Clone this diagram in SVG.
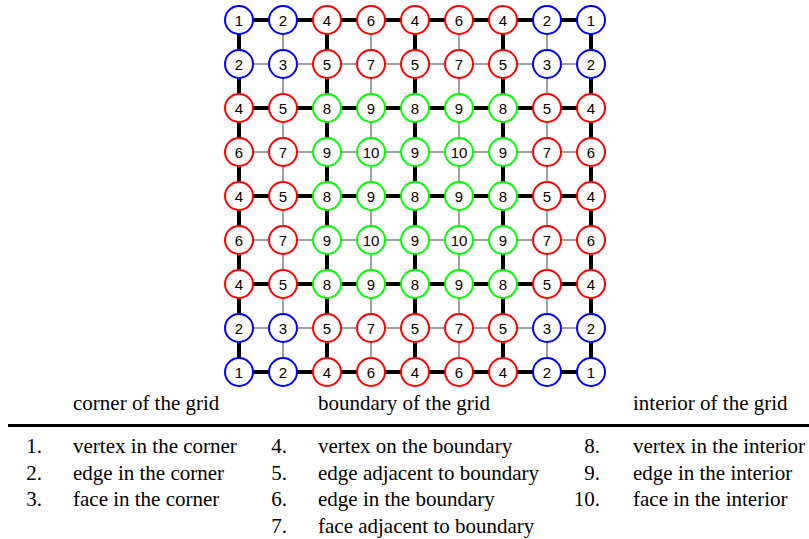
<svg xmlns="http://www.w3.org/2000/svg" width="809" height="539" viewBox="0 0 809 539">
<style>
.k{stroke:#000;stroke-width:4}
.h{stroke:#808080;stroke-width:1.5}
circle{fill:#fff;stroke-width:2}
.b circle{stroke:#0000ff}
.r circle{stroke:#ff0000}
.g circle{stroke:#00ff00}
.n text{font-family:"Liberation Sans",Arial,sans-serif;font-size:15px;text-anchor:middle;fill:#000}
.lab{font-family:"Liberation Serif","Times New Roman",serif;font-size:21px;fill:#000}
.num{text-anchor:end}
</style>
<rect width="809" height="539" fill="#fff"/>
<g id="connectors">
<g class="k">
<line x1="239" y1="20" x2="283" y2="20"/><line x1="283" y1="20" x2="327" y2="20"/><line x1="327" y1="20" x2="371" y2="20"/><line x1="371" y1="20" x2="415" y2="20"/><line x1="415" y1="20" x2="459" y2="20"/><line x1="459" y1="20" x2="503" y2="20"/><line x1="503" y1="20" x2="547" y2="20"/><line x1="547" y1="20" x2="591" y2="20"/>
<line x1="239" y1="108" x2="283" y2="108"/><line x1="283" y1="108" x2="327" y2="108"/><line x1="327" y1="108" x2="371" y2="108"/><line x1="371" y1="108" x2="415" y2="108"/><line x1="415" y1="108" x2="459" y2="108"/><line x1="459" y1="108" x2="503" y2="108"/><line x1="503" y1="108" x2="547" y2="108"/><line x1="547" y1="108" x2="591" y2="108"/>
<line x1="239" y1="196" x2="283" y2="196"/><line x1="283" y1="196" x2="327" y2="196"/><line x1="327" y1="196" x2="371" y2="196"/><line x1="371" y1="196" x2="415" y2="196"/><line x1="415" y1="196" x2="459" y2="196"/><line x1="459" y1="196" x2="503" y2="196"/><line x1="503" y1="196" x2="547" y2="196"/><line x1="547" y1="196" x2="591" y2="196"/>
<line x1="239" y1="284" x2="283" y2="284"/><line x1="283" y1="284" x2="327" y2="284"/><line x1="327" y1="284" x2="371" y2="284"/><line x1="371" y1="284" x2="415" y2="284"/><line x1="415" y1="284" x2="459" y2="284"/><line x1="459" y1="284" x2="503" y2="284"/><line x1="503" y1="284" x2="547" y2="284"/><line x1="547" y1="284" x2="591" y2="284"/>
<line x1="239" y1="372" x2="283" y2="372"/><line x1="283" y1="372" x2="327" y2="372"/><line x1="327" y1="372" x2="371" y2="372"/><line x1="371" y1="372" x2="415" y2="372"/><line x1="415" y1="372" x2="459" y2="372"/><line x1="459" y1="372" x2="503" y2="372"/><line x1="503" y1="372" x2="547" y2="372"/><line x1="547" y1="372" x2="591" y2="372"/>
<line x1="239" y1="20" x2="239" y2="64"/><line x1="239" y1="64" x2="239" y2="108"/><line x1="239" y1="108" x2="239" y2="152"/><line x1="239" y1="152" x2="239" y2="196"/><line x1="239" y1="196" x2="239" y2="240"/><line x1="239" y1="240" x2="239" y2="284"/><line x1="239" y1="284" x2="239" y2="328"/><line x1="239" y1="328" x2="239" y2="372"/>
<line x1="327" y1="20" x2="327" y2="64"/><line x1="327" y1="64" x2="327" y2="108"/><line x1="327" y1="108" x2="327" y2="152"/><line x1="327" y1="152" x2="327" y2="196"/><line x1="327" y1="196" x2="327" y2="240"/><line x1="327" y1="240" x2="327" y2="284"/><line x1="327" y1="284" x2="327" y2="328"/><line x1="327" y1="328" x2="327" y2="372"/>
<line x1="415" y1="20" x2="415" y2="64"/><line x1="415" y1="64" x2="415" y2="108"/><line x1="415" y1="108" x2="415" y2="152"/><line x1="415" y1="152" x2="415" y2="196"/><line x1="415" y1="196" x2="415" y2="240"/><line x1="415" y1="240" x2="415" y2="284"/><line x1="415" y1="284" x2="415" y2="328"/><line x1="415" y1="328" x2="415" y2="372"/>
<line x1="503" y1="20" x2="503" y2="64"/><line x1="503" y1="64" x2="503" y2="108"/><line x1="503" y1="108" x2="503" y2="152"/><line x1="503" y1="152" x2="503" y2="196"/><line x1="503" y1="196" x2="503" y2="240"/><line x1="503" y1="240" x2="503" y2="284"/><line x1="503" y1="284" x2="503" y2="328"/><line x1="503" y1="328" x2="503" y2="372"/>
<line x1="591" y1="20" x2="591" y2="64"/><line x1="591" y1="64" x2="591" y2="108"/><line x1="591" y1="108" x2="591" y2="152"/><line x1="591" y1="152" x2="591" y2="196"/><line x1="591" y1="196" x2="591" y2="240"/><line x1="591" y1="240" x2="591" y2="284"/><line x1="591" y1="284" x2="591" y2="328"/><line x1="591" y1="328" x2="591" y2="372"/>
</g>
<g class="h">
<line x1="239" y1="64" x2="283" y2="64"/><line x1="283" y1="64" x2="327" y2="64"/><line x1="327" y1="64" x2="371" y2="64"/><line x1="371" y1="64" x2="415" y2="64"/><line x1="415" y1="64" x2="459" y2="64"/><line x1="459" y1="64" x2="503" y2="64"/><line x1="503" y1="64" x2="547" y2="64"/><line x1="547" y1="64" x2="591" y2="64"/>
<line x1="239" y1="152" x2="283" y2="152"/><line x1="283" y1="152" x2="327" y2="152"/><line x1="327" y1="152" x2="371" y2="152"/><line x1="371" y1="152" x2="415" y2="152"/><line x1="415" y1="152" x2="459" y2="152"/><line x1="459" y1="152" x2="503" y2="152"/><line x1="503" y1="152" x2="547" y2="152"/><line x1="547" y1="152" x2="591" y2="152"/>
<line x1="239" y1="240" x2="283" y2="240"/><line x1="283" y1="240" x2="327" y2="240"/><line x1="327" y1="240" x2="371" y2="240"/><line x1="371" y1="240" x2="415" y2="240"/><line x1="415" y1="240" x2="459" y2="240"/><line x1="459" y1="240" x2="503" y2="240"/><line x1="503" y1="240" x2="547" y2="240"/><line x1="547" y1="240" x2="591" y2="240"/>
<line x1="239" y1="328" x2="283" y2="328"/><line x1="283" y1="328" x2="327" y2="328"/><line x1="327" y1="328" x2="371" y2="328"/><line x1="371" y1="328" x2="415" y2="328"/><line x1="415" y1="328" x2="459" y2="328"/><line x1="459" y1="328" x2="503" y2="328"/><line x1="503" y1="328" x2="547" y2="328"/><line x1="547" y1="328" x2="591" y2="328"/>
<line x1="283" y1="20" x2="283" y2="64"/><line x1="283" y1="64" x2="283" y2="108"/><line x1="283" y1="108" x2="283" y2="152"/><line x1="283" y1="152" x2="283" y2="196"/><line x1="283" y1="196" x2="283" y2="240"/><line x1="283" y1="240" x2="283" y2="284"/><line x1="283" y1="284" x2="283" y2="328"/><line x1="283" y1="328" x2="283" y2="372"/>
<line x1="371" y1="20" x2="371" y2="64"/><line x1="371" y1="64" x2="371" y2="108"/><line x1="371" y1="108" x2="371" y2="152"/><line x1="371" y1="152" x2="371" y2="196"/><line x1="371" y1="196" x2="371" y2="240"/><line x1="371" y1="240" x2="371" y2="284"/><line x1="371" y1="284" x2="371" y2="328"/><line x1="371" y1="328" x2="371" y2="372"/>
<line x1="459" y1="20" x2="459" y2="64"/><line x1="459" y1="64" x2="459" y2="108"/><line x1="459" y1="108" x2="459" y2="152"/><line x1="459" y1="152" x2="459" y2="196"/><line x1="459" y1="196" x2="459" y2="240"/><line x1="459" y1="240" x2="459" y2="284"/><line x1="459" y1="284" x2="459" y2="328"/><line x1="459" y1="328" x2="459" y2="372"/>
<line x1="547" y1="20" x2="547" y2="64"/><line x1="547" y1="64" x2="547" y2="108"/><line x1="547" y1="108" x2="547" y2="152"/><line x1="547" y1="152" x2="547" y2="196"/><line x1="547" y1="196" x2="547" y2="240"/><line x1="547" y1="240" x2="547" y2="284"/><line x1="547" y1="284" x2="547" y2="328"/><line x1="547" y1="328" x2="547" y2="372"/>
</g>
</g>
<g id="nodes" class="n">
<g id="n0-0" class="b"><circle cx="239" cy="20" r="14"/><text x="239" y="25.5">1</text></g>
<g id="n0-1" class="b"><circle cx="283" cy="20" r="14"/><text x="283" y="25.5">2</text></g>
<g id="n0-2" class="r"><circle cx="327" cy="20" r="14"/><text x="327" y="25.5">4</text></g>
<g id="n0-3" class="r"><circle cx="371" cy="20" r="14"/><text x="371" y="25.5">6</text></g>
<g id="n0-4" class="r"><circle cx="415" cy="20" r="14"/><text x="415" y="25.5">4</text></g>
<g id="n0-5" class="r"><circle cx="459" cy="20" r="14"/><text x="459" y="25.5">6</text></g>
<g id="n0-6" class="r"><circle cx="503" cy="20" r="14"/><text x="503" y="25.5">4</text></g>
<g id="n0-7" class="b"><circle cx="547" cy="20" r="14"/><text x="547" y="25.5">2</text></g>
<g id="n0-8" class="b"><circle cx="591" cy="20" r="14"/><text x="591" y="25.5">1</text></g>

<g id="n1-0" class="b"><circle cx="239" cy="64" r="14"/><text x="239" y="69.5">2</text></g>
<g id="n1-1" class="b"><circle cx="283" cy="64" r="14"/><text x="283" y="69.5">3</text></g>
<g id="n1-2" class="r"><circle cx="327" cy="64" r="14"/><text x="327" y="69.5">5</text></g>
<g id="n1-3" class="r"><circle cx="371" cy="64" r="14"/><text x="371" y="69.5">7</text></g>
<g id="n1-4" class="r"><circle cx="415" cy="64" r="14"/><text x="415" y="69.5">5</text></g>
<g id="n1-5" class="r"><circle cx="459" cy="64" r="14"/><text x="459" y="69.5">7</text></g>
<g id="n1-6" class="r"><circle cx="503" cy="64" r="14"/><text x="503" y="69.5">5</text></g>
<g id="n1-7" class="b"><circle cx="547" cy="64" r="14"/><text x="547" y="69.5">3</text></g>
<g id="n1-8" class="b"><circle cx="591" cy="64" r="14"/><text x="591" y="69.5">2</text></g>

<g id="n2-0" class="r"><circle cx="239" cy="108" r="14"/><text x="239" y="113.5">4</text></g>
<g id="n2-1" class="r"><circle cx="283" cy="108" r="14"/><text x="283" y="113.5">5</text></g>
<g id="n2-2" class="g"><circle cx="327" cy="108" r="14"/><text x="327" y="113.5">8</text></g>
<g id="n2-3" class="g"><circle cx="371" cy="108" r="14"/><text x="371" y="113.5">9</text></g>
<g id="n2-4" class="g"><circle cx="415" cy="108" r="14"/><text x="415" y="113.5">8</text></g>
<g id="n2-5" class="g"><circle cx="459" cy="108" r="14"/><text x="459" y="113.5">9</text></g>
<g id="n2-6" class="g"><circle cx="503" cy="108" r="14"/><text x="503" y="113.5">8</text></g>
<g id="n2-7" class="r"><circle cx="547" cy="108" r="14"/><text x="547" y="113.5">5</text></g>
<g id="n2-8" class="r"><circle cx="591" cy="108" r="14"/><text x="591" y="113.5">4</text></g>

<g id="n3-0" class="r"><circle cx="239" cy="152" r="14"/><text x="239" y="157.5">6</text></g>
<g id="n3-1" class="r"><circle cx="283" cy="152" r="14"/><text x="283" y="157.5">7</text></g>
<g id="n3-2" class="g"><circle cx="327" cy="152" r="14"/><text x="327" y="157.5">9</text></g>
<g id="n3-3" class="g"><circle cx="371" cy="152" r="14"/><text x="371" y="157.5">10</text></g>
<g id="n3-4" class="g"><circle cx="415" cy="152" r="14"/><text x="415" y="157.5">9</text></g>
<g id="n3-5" class="g"><circle cx="459" cy="152" r="14"/><text x="459" y="157.5">10</text></g>
<g id="n3-6" class="g"><circle cx="503" cy="152" r="14"/><text x="503" y="157.5">9</text></g>
<g id="n3-7" class="r"><circle cx="547" cy="152" r="14"/><text x="547" y="157.5">7</text></g>
<g id="n3-8" class="r"><circle cx="591" cy="152" r="14"/><text x="591" y="157.5">6</text></g>

<g id="n4-0" class="r"><circle cx="239" cy="196" r="14"/><text x="239" y="201.5">4</text></g>
<g id="n4-1" class="r"><circle cx="283" cy="196" r="14"/><text x="283" y="201.5">5</text></g>
<g id="n4-2" class="g"><circle cx="327" cy="196" r="14"/><text x="327" y="201.5">8</text></g>
<g id="n4-3" class="g"><circle cx="371" cy="196" r="14"/><text x="371" y="201.5">9</text></g>
<g id="n4-4" class="g"><circle cx="415" cy="196" r="14"/><text x="415" y="201.5">8</text></g>
<g id="n4-5" class="g"><circle cx="459" cy="196" r="14"/><text x="459" y="201.5">9</text></g>
<g id="n4-6" class="g"><circle cx="503" cy="196" r="14"/><text x="503" y="201.5">8</text></g>
<g id="n4-7" class="r"><circle cx="547" cy="196" r="14"/><text x="547" y="201.5">5</text></g>
<g id="n4-8" class="r"><circle cx="591" cy="196" r="14"/><text x="591" y="201.5">4</text></g>

<g id="n5-0" class="r"><circle cx="239" cy="240" r="14"/><text x="239" y="245.5">6</text></g>
<g id="n5-1" class="r"><circle cx="283" cy="240" r="14"/><text x="283" y="245.5">7</text></g>
<g id="n5-2" class="g"><circle cx="327" cy="240" r="14"/><text x="327" y="245.5">9</text></g>
<g id="n5-3" class="g"><circle cx="371" cy="240" r="14"/><text x="371" y="245.5">10</text></g>
<g id="n5-4" class="g"><circle cx="415" cy="240" r="14"/><text x="415" y="245.5">9</text></g>
<g id="n5-5" class="g"><circle cx="459" cy="240" r="14"/><text x="459" y="245.5">10</text></g>
<g id="n5-6" class="g"><circle cx="503" cy="240" r="14"/><text x="503" y="245.5">9</text></g>
<g id="n5-7" class="r"><circle cx="547" cy="240" r="14"/><text x="547" y="245.5">7</text></g>
<g id="n5-8" class="r"><circle cx="591" cy="240" r="14"/><text x="591" y="245.5">6</text></g>

<g id="n6-0" class="r"><circle cx="239" cy="284" r="14"/><text x="239" y="289.5">4</text></g>
<g id="n6-1" class="r"><circle cx="283" cy="284" r="14"/><text x="283" y="289.5">5</text></g>
<g id="n6-2" class="g"><circle cx="327" cy="284" r="14"/><text x="327" y="289.5">8</text></g>
<g id="n6-3" class="g"><circle cx="371" cy="284" r="14"/><text x="371" y="289.5">9</text></g>
<g id="n6-4" class="g"><circle cx="415" cy="284" r="14"/><text x="415" y="289.5">8</text></g>
<g id="n6-5" class="g"><circle cx="459" cy="284" r="14"/><text x="459" y="289.5">9</text></g>
<g id="n6-6" class="g"><circle cx="503" cy="284" r="14"/><text x="503" y="289.5">8</text></g>
<g id="n6-7" class="r"><circle cx="547" cy="284" r="14"/><text x="547" y="289.5">5</text></g>
<g id="n6-8" class="r"><circle cx="591" cy="284" r="14"/><text x="591" y="289.5">4</text></g>

<g id="n7-0" class="b"><circle cx="239" cy="328" r="14"/><text x="239" y="333.5">2</text></g>
<g id="n7-1" class="b"><circle cx="283" cy="328" r="14"/><text x="283" y="333.5">3</text></g>
<g id="n7-2" class="r"><circle cx="327" cy="328" r="14"/><text x="327" y="333.5">5</text></g>
<g id="n7-3" class="r"><circle cx="371" cy="328" r="14"/><text x="371" y="333.5">7</text></g>
<g id="n7-4" class="r"><circle cx="415" cy="328" r="14"/><text x="415" y="333.5">5</text></g>
<g id="n7-5" class="r"><circle cx="459" cy="328" r="14"/><text x="459" y="333.5">7</text></g>
<g id="n7-6" class="r"><circle cx="503" cy="328" r="14"/><text x="503" y="333.5">5</text></g>
<g id="n7-7" class="b"><circle cx="547" cy="328" r="14"/><text x="547" y="333.5">3</text></g>
<g id="n7-8" class="b"><circle cx="591" cy="328" r="14"/><text x="591" y="333.5">2</text></g>

<g id="n8-0" class="b"><circle cx="239" cy="372" r="14"/><text x="239" y="377.5">1</text></g>
<g id="n8-1" class="b"><circle cx="283" cy="372" r="14"/><text x="283" y="377.5">2</text></g>
<g id="n8-2" class="r"><circle cx="327" cy="372" r="14"/><text x="327" y="377.5">4</text></g>
<g id="n8-3" class="r"><circle cx="371" cy="372" r="14"/><text x="371" y="377.5">6</text></g>
<g id="n8-4" class="r"><circle cx="415" cy="372" r="14"/><text x="415" y="377.5">4</text></g>
<g id="n8-5" class="r"><circle cx="459" cy="372" r="14"/><text x="459" y="377.5">6</text></g>
<g id="n8-6" class="r"><circle cx="503" cy="372" r="14"/><text x="503" y="377.5">4</text></g>
<g id="n8-7" class="b"><circle cx="547" cy="372" r="14"/><text x="547" y="377.5">2</text></g>
<g id="n8-8" class="b"><circle cx="591" cy="372" r="14"/><text x="591" y="377.5">1</text></g>
</g>
<g id="legend">
<text class="lab" x="73" y="410">corner of the grid</text>
<text class="lab" x="318" y="410">boundary of the grid</text>
<text class="lab" x="633" y="410">interior of the grid</text>
<line x1="8" y1="425.5" x2="809" y2="425.5" stroke="#000" stroke-width="3"/>
<text class="lab num" x="42" y="453">1.</text><text class="lab" x="73" y="453">vertex in the corner</text>
<text class="lab num" x="42" y="479.5">2.</text><text class="lab" x="73" y="479.5">edge in the corner</text>
<text class="lab num" x="42" y="506">3.</text><text class="lab" x="73" y="506">face in the corner</text>
<text class="lab num" x="287" y="453">4.</text><text class="lab" x="318" y="453">vertex on the boundary</text>
<text class="lab num" x="287" y="479.5">5.</text><text class="lab" x="318" y="479.5">edge adjacent to boundary</text>
<text class="lab num" x="287" y="506">6.</text><text class="lab" x="318" y="506">edge in the boundary</text>
<text class="lab num" x="287" y="532.5">7.</text><text class="lab" x="318" y="532.5">face adjacent to boundary</text>
<text class="lab num" x="600" y="453">8.</text><text class="lab" x="633" y="453">vertex in the interior</text>
<text class="lab num" x="600" y="479.5">9.</text><text class="lab" x="633" y="479.5">edge in the interior</text>
<text class="lab num" x="600" y="506">10.</text><text class="lab" x="633" y="506">face in the interior</text>
</g>
</svg>
